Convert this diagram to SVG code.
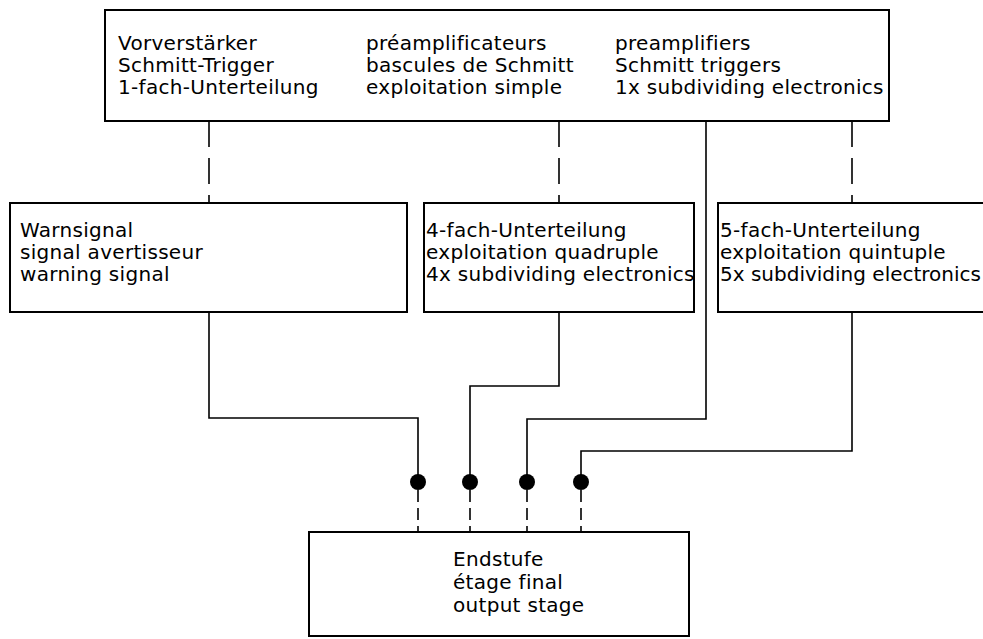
<svg xmlns="http://www.w3.org/2000/svg" width="983" height="639" viewBox="0 0 983 639">
<style>
.box{fill:#fff;stroke:#000;stroke-width:2}
.t{font-family:"DejaVu Sans","Liberation Sans",sans-serif;font-size:20px;letter-spacing:0.3px;fill:#000}
.w{fill:none;stroke:#000;stroke-width:1.6}
.d{fill:none;stroke:#000;stroke-width:1.6;stroke-dasharray:26,11}
.ds{fill:none;stroke:#000;stroke-width:1.6;stroke-dasharray:12,6}
.dot{fill:#000}
</style>
<rect width="983" height="639" fill="#fff"/>
<g id="connectors">
<path class="d" d="M209,121V203"/>
<path class="d" d="M559,121V203"/>
<path class="d" d="M852,121V203"/>
<path class="w" d="M706,121V419H527V482"/>
<path class="w" d="M209,312V418H418V482"/>
<path class="w" d="M559,312V386H470V482"/>
<path class="w" d="M852,312V451H581V482"/>
<path class="ds" d="M418,490V532"/>
<path class="ds" d="M470,490V532"/>
<path class="ds" d="M527,490V532"/>
<path class="ds" d="M581,490V532"/>
<circle class="dot" cx="418" cy="482" r="8"/>
<circle class="dot" cx="470" cy="482" r="8"/>
<circle class="dot" cx="527" cy="482" r="8"/>
<circle class="dot" cx="581" cy="482" r="8"/>
</g>
<g id="top">
<rect class="box" x="105" y="10" width="784" height="111"/>
<text class="t" x="118" y="50">Vorverstärker</text>
<text class="t" x="118" y="72">Schmitt-Trigger</text>
<text class="t" x="118" y="94">1-fach-Unterteilung</text>
<text class="t" x="366" y="50">préamplificateurs</text>
<text class="t" x="366" y="72">bascules de Schmitt</text>
<text class="t" x="366" y="94">exploitation simple</text>
<text class="t" x="615" y="50">preamplifiers</text>
<text class="t" x="615" y="72">Schmitt triggers</text>
<text class="t" x="615" y="94">1x subdividing electronics</text>
</g>
<g id="warn">
<rect class="box" x="10" y="203" width="397" height="109"/>
<text class="t" x="20" y="237">Warnsignal</text>
<text class="t" x="20" y="259">signal avertisseur</text>
<text class="t" x="20" y="281">warning signal</text>
</g>
<g id="quad">
<rect class="box" x="424" y="203" width="270" height="109"/>
<text class="t" x="426" y="237">4-fach-Unterteilung</text>
<text class="t" x="426" y="259">exploitation quadruple</text>
<text class="t" x="426" y="281">4x subdividing electronics</text>
</g>
<g id="quint">
<rect class="box" x="718" y="203" width="275" height="109"/>
<text class="t" x="720" y="237">5-fach-Unterteilung</text>
<text class="t" x="720" y="259">exploitation quintuple</text>
<text class="t" x="720" y="281" style="letter-spacing:0">5x subdividing electronics</text>
</g>
<g id="final">
<rect class="box" x="309" y="532" width="380" height="104"/>
<text class="t" x="453" y="566">Endstufe</text>
<text class="t" x="453" y="589">étage final</text>
<text class="t" x="453" y="612">output stage</text>
</g>
</svg>
